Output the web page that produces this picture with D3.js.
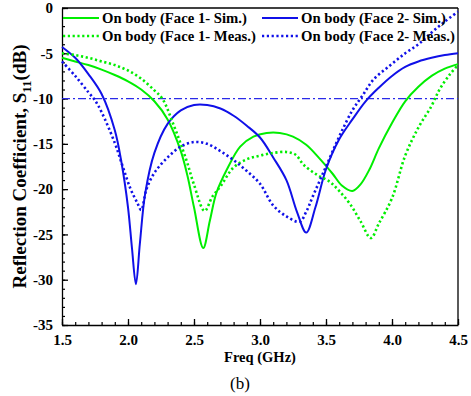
<html>
<head>
<script src="https://d3js.org/d3.v7.min.js"></script>
<style>
body { margin: 0; background: #fff; }
text { font-family: "Liberation Serif", "Times New Roman", serif; }
</style>
</head>
<body>
<svg width="471" height="396"></svg>
<script>
// S11 readings, freq in GHz, values in dB
var simFace1F = [1.5,1.6,1.7,1.8,1.9,2.0,2.1,2.2,2.3,2.4,2.45,2.5,2.57,2.62,2.67,2.75,2.85,2.95,3.05,3.15,3.25,3.35,3.45,3.55,3.62,3.7,3.76,3.83,3.9,4.0,4.1,4.2,4.3,4.4,4.5];
var simFace1 = [-5.5,-5.9,-6.3,-6.8,-7.4,-8.1,-9.0,-10.3,-12.3,-15.8,-18.5,-22,-26.5,-23.5,-20.4,-17.8,-15.3,-14.2,-13.8,-13.8,-14.2,-15.1,-16.6,-18.3,-19.6,-20.2,-19.5,-17.8,-15.5,-12.7,-10.3,-8.7,-7.5,-6.7,-6.2];

var measFace1F = [1.5,1.6,1.7,1.8,1.9,2.0,2.1,2.2,2.26,2.34,2.44,2.5,2.58,2.64,2.7,2.8,2.9,3.0,3.1,3.2,3.27,3.33,3.43,3.53,3.6,3.68,3.76,3.84,3.9,4.0,4.1,4.2,4.3,4.36,4.44,4.5];
var measFace1 = [-5.0,-5.2,-5.5,-5.9,-6.3,-6.9,-7.8,-9.1,-10,-12.7,-16.7,-19.5,-22.4,-20.8,-19.7,-17.6,-16.7,-16.3,-16.0,-15.9,-16.2,-17.3,-18.4,-19.2,-20.2,-21.6,-23.5,-25.4,-23.8,-21.0,-16.3,-13.2,-10.8,-9.0,-7.3,-6.3];

var simFace2F = [1.5,1.6,1.7,1.8,1.9,1.95,2.0,2.03,2.06,2.09,2.13,2.2,2.3,2.4,2.5,2.6,2.7,2.8,2.9,3.0,3.1,3.2,3.28,3.35,3.42,3.5,3.6,3.7,3.8,3.9,4.0,4.1,4.2,4.3,4.4,4.5];
var simFace2 = [-4.3,-5.5,-7.3,-9.5,-13.5,-17,-22,-26.5,-30.5,-26,-20.5,-16,-12.8,-11.3,-10.7,-10.7,-11.1,-11.9,-13,-14.3,-16.5,-19,-22.5,-24.8,-22,-17.8,-14.5,-12.3,-10.3,-8.8,-7.5,-6.5,-5.9,-5.5,-5.2,-5.0];

var measFace2F = [1.5,1.6,1.7,1.75,1.8,1.9,1.96,2.02,2.07,2.1,2.14,2.2,2.3,2.4,2.5,2.6,2.7,2.8,2.9,3.0,3.1,3.2,3.3,3.35,3.4,3.5,3.6,3.7,3.78,3.86,3.98,4.1,4.2,4.3,4.4,4.5];
var measFace2 = [-5.9,-7.5,-9.3,-10.2,-11.5,-14.9,-17.5,-20,-21.5,-22.3,-20,-18.2,-16.5,-15.3,-14.8,-15,-15.8,-16.8,-18,-19.4,-21.8,-23,-23.6,-22.5,-20.8,-17.5,-14.2,-11.3,-9.6,-7.9,-6.4,-5.0,-4.0,-2.7,-1.5,-0.4];

var xTicks = [1.5,2.0,2.5,3.0,3.5,4.0,4.5];
var yTicks = [0,-5,-10,-15,-20,-25,-30,-35];
var refLevel = -10;

var svg = d3.select("svg");
var pL = 62, pR = 458, pT = 8, pB = 325;

var x = d3.scaleLinear().domain([1.5, 4.5]).range([pL, pR]);
var y = d3.scaleLinear().domain([0, -35]).range([pT, pB]);

// minor ticks
svg.append("g").attr("transform", "translate(0," + pB + ")")
  .call(d3.axisBottom(x).tickValues(d3.range(15, 46).map(function(d){ return d/10; })).tickSize(-3).tickFormat(""))
  .call(function(g){ g.select(".domain").remove(); g.selectAll("line").attr("stroke", "#000").attr("stroke-width", 1.2); });
svg.append("g").attr("transform", "translate(" + pL + ",0)")
  .call(d3.axisLeft(y).tickValues(d3.range(0, 36).map(function(d){ return -d; })).tickSize(-3).tickFormat(""))
  .call(function(g){ g.select(".domain").remove(); g.selectAll("line").attr("stroke", "#000").attr("stroke-width", 1.2); });

var xAxis = svg.append("g").attr("transform", "translate(0," + pB + ")")
  .call(d3.axisBottom(x).tickValues(xTicks).tickSizeInner(-6).tickSizeOuter(0).tickPadding(9).tickFormat(d3.format(".1f")));
var yAxis = svg.append("g").attr("transform", "translate(" + pL + ",0)")
  .call(d3.axisLeft(y).tickValues(yTicks).tickSizeInner(-6).tickSizeOuter(0).tickPadding(9).tickFormat(function(d){ return d === 0 ? "0" : d; }));

[xAxis, yAxis].forEach(function(g){
  g.selectAll("text").attr("font-family", "Liberation Serif").attr("font-weight", "bold").attr("font-size", 15).attr("fill", "#000");
  g.selectAll("line, path").attr("stroke", "#000").attr("stroke-width", 1.3);
});

// frame top/right
svg.append("line").attr("x1", pL).attr("x2", pR).attr("y1", pT).attr("y2", pT).attr("stroke", "#000").attr("stroke-width", 1.3);
svg.append("line").attr("x1", pR).attr("x2", pR).attr("y1", pT).attr("y2", pB).attr("stroke", "#000").attr("stroke-width", 1.3);

// -10 dB reference
svg.append("line")
  .attr("x1", x(1.5)).attr("x2", x(4.5)).attr("y1", y(refLevel)).attr("y2", y(refLevel))
  .attr("stroke", "#2a2ae8").attr("stroke-width", 1.3).attr("stroke-dasharray", "8,3,2,3");

var line = d3.line()
  .x(function(d){ return x(d[0]); })
  .y(function(d){ return y(d[1]); })
  .curve(d3.curveCatmullRom.alpha(0.5));

var series = [
  { f: simFace1F, v: simFace1, color: "#00ee00", dash: null, label: "On body (Face 1- Sim.)" },
  { f: simFace2F, v: simFace2, color: "#1010e8", dash: null, label: "On body (Face 2- Sim.)" },
  { f: measFace1F, v: measFace1, color: "#00ee00", dash: "2.2,2.6", label: "On body (Face 1- Meas.)" },
  { f: measFace2F, v: measFace2, color: "#1010e8", dash: "2.2,2.6", label: "On body (Face 2- Meas.)" }
];

series.forEach(function(s){
  svg.append("path")
    .datum(d3.zip(s.f, s.v))
    .attr("d", line)
    .attr("fill", "none")
    .attr("stroke", s.color)
    .attr("stroke-width", s.dash ? 2.6 : 2)
    .attr("stroke-dasharray", s.dash);
});

// legend
var legPos = [[63, 18], [262, 18], [63, 36], [262, 36]];
series.forEach(function(s, i){
  var p = legPos[i];
  svg.append("line").attr("x1", p[0]).attr("x2", p[0] + 36).attr("y1", p[1]).attr("y2", p[1])
    .attr("stroke", s.color).attr("stroke-width", s.dash ? 2.6 : 2).attr("stroke-dasharray", s.dash);
  svg.append("text").attr("x", p[0] + 39).attr("y", p[1] + 5)
    .attr("font-weight", "bold").attr("font-size", 14.7).text(s.label);
});

// axis titles
svg.append("text").attr("x", (pL + pR) / 2).attr("y", 362).attr("text-anchor", "middle")
  .attr("font-weight", "bold").attr("font-size", 14.5).text("Freq (GHz)");

var yl = svg.append("text")
  .attr("transform", "translate(26," + ((pT + pB) / 2) + ") rotate(-90)")
  .attr("text-anchor", "middle").attr("font-weight", "bold").attr("font-size", 19);
yl.append("tspan").text("Reflection Coefficient, S");
yl.append("tspan").attr("font-size", 13).attr("dy", 5).text("11");
yl.append("tspan").attr("dy", -5).text("(dB)");

svg.append("text").attr("x", 240).attr("y", 389).attr("text-anchor", "middle")
  .attr("font-size", 17).text("(b)");
</script>
</body>
</html>
